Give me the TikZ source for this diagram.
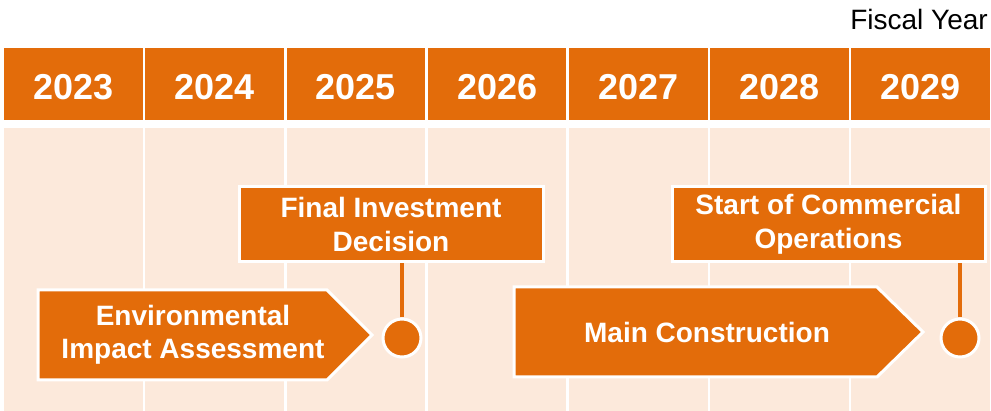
\documentclass[tikz,border=0pt]{standalone}
\usepackage{fontspec}
\setmainfont{Liberation Sans}
\definecolor{accent}{HTML}{E36C0A}
\definecolor{lane}{HTML}{FCE9DB}
\begin{document}
\begin{tikzpicture}[x=1pt,y=-1pt,
  yearcell/.style={fill=accent, draw=none, minimum width=138.5pt, minimum height=72pt,
    inner sep=0pt, text height=32pt, text depth=0pt, text=white, font=\fontsize{36}{40}\selectfont\bfseries},
  lanecell/.style={fill=lane, draw=none, minimum width=138.5pt, minimum height=283pt, inner sep=0pt},
  milestone/.style={fill=accent, draw=white, line width=3pt, inner sep=0pt, text=white,
    align=center, font=\fontsize{28}{34}\selectfont\bfseries},
  phase/.style={fill=accent, draw=white, line width=3pt},
  phasetext/.style={text=white, align=center, inner sep=0pt, font=\fontsize{28}{33}\selectfont\bfseries},
  dot/.style={circle, fill=accent, draw=white, line width=3pt, minimum size=38pt, inner sep=0pt},
  stem/.style={draw=accent, line width=4pt}]
\useasboundingbox (0,0) rectangle (991,411);

% fiscal year label
\node[anchor=base east, inner sep=0pt, font=\fontsize{28}{32}\selectfont] (fy) at (988,30) {Fiscal Year};

% year columns and lanes
\foreach \yr [count=\i from 0] in {2023,2024,2025,2026,2027,2028,2029}{
  \node[yearcell] (y\yr) at ({73.5+\i*141.2},84) {\yr};
  \node[lanecell] (l\yr) at ({73.5+\i*141.2},269.5) {};
}

% phases
\path[phase] (38,290) -- (327,290) -- (372,335) -- (327,380) -- (38,380) -- cycle;
\node[phasetext] (eia) at (193,335) {Environmental\\Impact Assessment};
\path[phase] (514,287) -- (877,287) -- (923,332) -- (877,377) -- (514,377) -- cycle;
\node[phasetext] (mc) at (707,332) {Main Construction};

% milestones
\node[milestone, minimum width=304pt, minimum height=75pt] (fid) at (391,224.5) {Final Investment\\Decision};
\node[dot] (fiddot) at (402,338) {};
\draw[stem] (fiddot.north) -- (fiddot.north |- fid.south);

\node[milestone, minimum width=313pt, minimum height=75pt] (sco) at (828.5,224.5) {Start of Commercial\\Operations};
\node[dot] (scodot) at (960,338) {};
\draw[stem] (scodot.north) -- (scodot.north |- sco.south);
\end{tikzpicture}
\end{document}
